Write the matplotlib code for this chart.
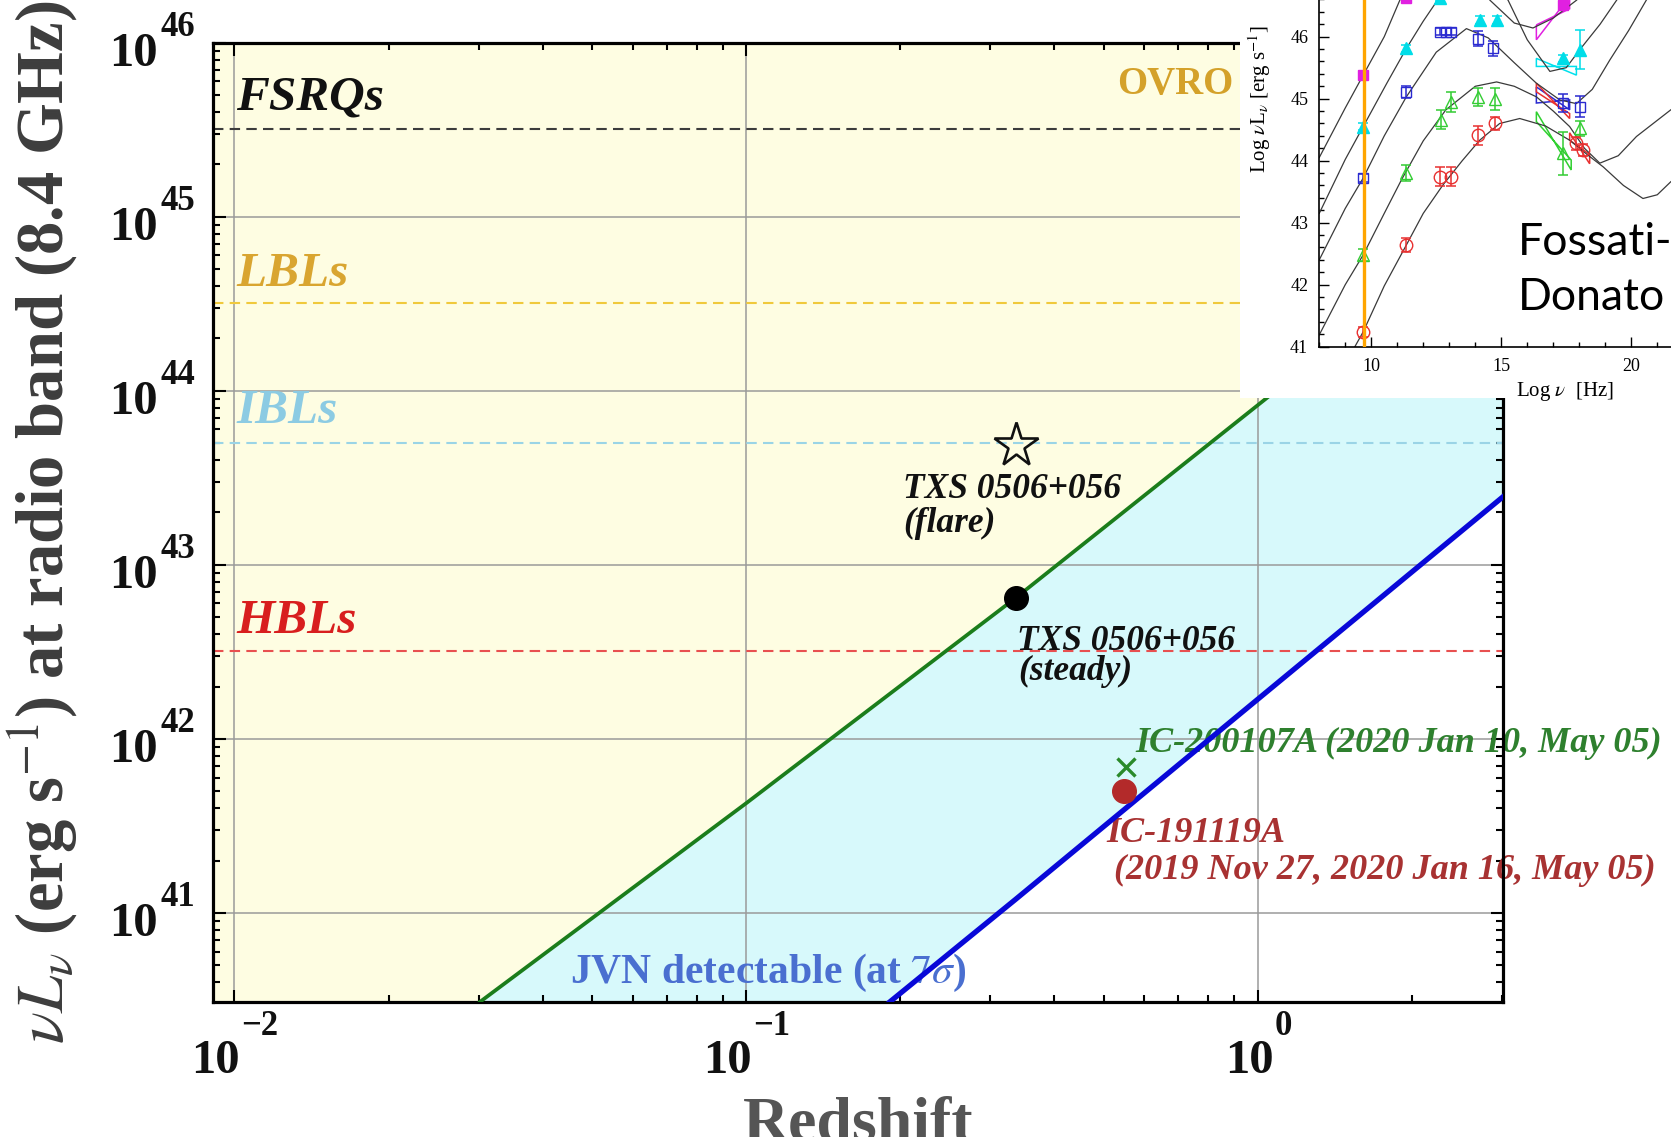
import matplotlib
matplotlib.use("Agg")
import matplotlib.pyplot as plt
from matplotlib.patches import Rectangle, Polygon
from matplotlib.ticker import FixedLocator, LogLocator, NullFormatter, MultipleLocator
import numpy as np

plt.rcParams["font.family"] = ["Liberation Serif", "DejaVu Serif"]
plt.rcParams["mathtext.fontset"] = "stix"

# ---------------- main panel data ----------------
Z_LIM = (0.00908, 3.01)
L_LIM = (3.09e40, 1e46)
z_ticks = [0.01, 0.1, 1.0]
L_ticks = [1e41, 1e42, 1e43, 1e44, 1e45, 1e46]

# OVRO sensitivity curve (green) and JVN 7 sigma curve (blue)
ovro_z = [0.0302, 0.100, 0.3365, 1.042, 3.01]
ovro_L = [3.09e40, 4.27e41, 6.46e42, 9.1e43, 1.15e45]
jvn_z = [0.191, 0.3365, 1.123, 3.01]
jvn_L = [3.09e40, 1.2e41, 2.24e42, 2.45e43]

class_names = ["FSRQs", "LBLs", "IBLs", "HBLs"]
class_L = [3.2e45, 3.2e44, 5.0e43, 3.2e42]
class_line_colors = ["#3c3c3c", "#f0c93c", "#9ad4e6", "#e85050"]
class_text_colors = ["#111111", "#d9a530", "#8ccbe3", "#d81e1e"]

txs_z = 0.3365
txs_flare_L = 4.9e43
txs_steady_L = 6.46e42
ic200107_z, ic200107_L = 0.554, 6.9e41
ic191119_z, ic191119_L = 0.549, 5.0e41

# ---------------- inset (Fossati-Donato sequence) ----------------
seq_A_x = [8.0, 9.0, 9.69, 10.5, 11.1, 12.0, 13.0, 14.0, 14.56, 15.5, 16.22, 17.0, 17.9, 19.0]
seq_A_y = [44.05, 44.85, 45.38, 46.0, 46.59, 47.2, 47.4, 47.0, 46.59, 46.22, 46.14, 46.3, 46.59, 47.1]
seq_B_x = [8.0, 9.0, 9.69, 10.6, 11.35, 12.0, 12.55, 13.5, 14.5, 15.26, 16.0, 16.87, 17.5, 18.02, 18.8, 19.44, 20.5]
seq_B_y = [43.15, 44.02, 44.55, 45.25, 45.81, 46.25, 46.59, 46.95, 46.9, 46.59, 45.95, 45.44, 45.5, 45.79, 46.2, 46.59, 47.2]
seq_C_x = [8.0, 9.0, 9.69, 10.5, 11.35, 12.5, 13.66, 14.5, 15.5, 16.35, 17.25, 17.89, 18.5, 19.17, 19.9, 20.58]
seq_C_y = [42.40, 43.23, 43.72, 44.4, 45.03, 45.75, 46.13, 45.98, 45.58, 45.25, 44.98, 44.92, 45.15, 45.62, 46.1, 46.59]
seq_D_x = [8.0, 9.0, 9.69, 10.5, 11.16, 12.0, 12.87, 14.0, 14.82, 15.5, 16.35, 17.0, 17.63, 18.2, 18.79, 19.5, 20.2, 21.52]
seq_D_y = [41.19, 42.0, 42.48, 43.15, 43.69, 44.32, 44.82, 45.2, 45.27, 45.2, 45.03, 44.8, 44.55, 44.2, 43.96, 44.08, 44.39, 44.82]
seq_E_x = [9.37, 9.69, 10.5, 11.35, 12.0, 12.76, 13.5, 14.17, 14.94, 15.71, 16.7, 17.63, 18.3, 18.92, 19.7, 20.45, 21.0, 21.52]
seq_E_y = [41.0, 41.24, 41.98, 42.64, 43.15, 43.61, 44.0, 44.33, 44.6, 44.68, 44.56, 44.33, 44.1, 43.9, 43.6, 43.39, 43.45, 43.66]

mag_x = [9.69, 11.35, 17.38]
mag_y = [45.38, 46.62, 46.51]
mag_err = [0.06, 0.06, 0.07]
cyan_x = [9.69, 11.35, 12.63, 14.17, 14.82, 17.38, 18.02]
cyan_y = [44.55, 45.81, 46.62, 46.27, 46.27, 45.65, 45.79]
cyan_err = [0.05, 0.06, 0.05, 0.06, 0.06, 0.06, 0.31]
blue_x = [9.69, 11.35, 12.63, 12.87, 13.08, 14.11, 14.68, 17.38, 18.02]
blue_y = [43.72, 45.11, 46.08, 46.08, 46.08, 45.97, 45.81, 44.93, 44.87]
blue_err = [0.06, 0.1, 0.06, 0.06, 0.06, 0.12, 0.12, 0.15, 0.17]
green_x = [9.69, 11.35, 12.68, 13.08, 14.11, 14.75, 17.38, 18.02]
green_y = [42.48, 43.80, 44.66, 44.95, 45.03, 45.00, 44.12, 44.52]
green_err = [0.1, 0.13, 0.15, 0.16, 0.15, 0.18, 0.35, 0.12]
red_x = [9.69, 11.35, 12.63, 13.08, 14.11, 14.75, 17.89, 18.15]
red_y = [41.24, 42.64, 43.74, 43.74, 44.41, 44.60, 44.28, 44.17]
red_err = [0.08, 0.12, 0.15, 0.15, 0.15, 0.1, 0.1, 0.1]

# X-ray bowties: x_left, x_right, (y_left_lo, y_left_hi), (y_right_lo, y_right_hi)
bowtie_colors = ["#e020e0", "#00e0ec", "#2a2ad0", "#e83030", "#30d030", "#e83030"]
bowtie_xl = [16.35, 16.35, 16.35, 16.35, 16.35, 17.63]
bowtie_xr = [17.63, 17.89, 17.63, 17.63, 17.69, 18.4]
bowtie_yl = [(45.95, 46.19), (45.52, 45.65), (44.93, 45.19), (45.11, 45.25), (44.63, 44.79), (44.33, 44.45)]
bowtie_yr = [(46.45, 46.65), (45.38, 45.52), (44.82, 44.98), (44.68, 44.76), (43.85, 44.01), (43.95, 44.1)]
radio_band_lognu = 9.72

YELLOW = "#fefde2"
CYAN = "#d7f9fb"
BASE_PT = 35
EXP_PT = 25


def exp_text(v):
    return str(int(round(np.log10(v)))).replace("-", "\u2212")


fig = plt.figure(figsize=(16.71, 11.37), dpi=100)
ax = fig.add_axes([0.1275, 0.1189, 0.7717, 0.8436])
ax.set_xscale("log")
ax.set_yscale("log")
ax.set_xlim(*Z_LIM)
ax.set_ylim(*L_LIM)
ax.set_facecolor(YELLOW)

ax.fill(ovro_z + jvn_z[::-1], ovro_L + jvn_L[::-1], color=CYAN, lw=0, zorder=1)
ax.fill(jvn_z + [jvn_z[-1]], jvn_L + [L_LIM[0]], color="white", lw=0, zorder=1)

ax.grid(True, which="major", color="#9a9a9a", lw=1.1)
for L, c in zip(class_L, class_line_colors):
    ax.axhline(L, color=c, lw=1.5, ls=(0, (5, 3)), zorder=2)

ax.plot(ovro_z, ovro_L, color="#1b7d1b", lw=2.7, zorder=3)
ax.plot(jvn_z, jvn_L, color="#0808d8", lw=3.8, zorder=3)

ax.plot(txs_z, txs_flare_L, marker="*", ms=33, mfc="none", mec="#111111", mew=1.9, zorder=4)
ax.plot(txs_z, txs_steady_L, marker="o", ms=17, color="black", zorder=4)
ax.plot(ic200107_z, ic200107_L, marker="x", ms=13, mew=2.4, color="#2a8a2a", zorder=4)
ax.plot(ic191119_z, ic191119_L, marker="o", ms=17, color="#b32a2a", zorder=4)

ax.xaxis.set_major_locator(FixedLocator(z_ticks))
ax.yaxis.set_major_locator(FixedLocator(L_ticks))
ax.xaxis.set_minor_locator(LogLocator(base=10, subs=np.arange(2, 10)))
ax.yaxis.set_minor_locator(LogLocator(base=10, subs=np.arange(2, 10)))
ax.xaxis.set_minor_formatter(NullFormatter())
ax.yaxis.set_minor_formatter(NullFormatter())
ax.tick_params(which="both", direction="in", top=True, right=True, width=1.5,
               labelbottom=False, labelleft=False)
ax.tick_params(which="major", length=9)
ax.tick_params(which="minor", length=5)
for s in ax.spines.values():
    s.set_linewidth(2.3)

# power-of-ten tick labels with a high superscript, as in the original
lab = dict(textcoords="offset points", fontweight="bold", va="baseline",
           annotation_clip=False, color="#111111")
for L in L_ticks:
    ax.annotate("10", xy=(0, L), xycoords=("axes fraction", "data"), xytext=(-39.5, -16.5),
                ha="right", fontsize=BASE_PT, **lab)
    ax.annotate(exp_text(L), xy=(0, L), xycoords=("axes fraction", "data"), xytext=(-37.5, 4.8),
                ha="left", fontsize=EXP_PT, **lab)
for z in z_ticks:
    e = exp_text(z)
    w_exp = EXP_PT * (0.5 * len(e.replace("\u2212", "")) + 0.57 * e.count("\u2212"))
    off = (BASE_PT - w_exp) / 2.0
    ax.annotate("10", xy=(z, 0), xycoords=("data", "axes fraction"), xytext=(off, -51),
                ha="right", fontsize=BASE_PT, **lab)
    ax.annotate(e, xy=(z, 0), xycoords=("data", "axes fraction"), xytext=(off + 1, -24),
                ha="left", fontsize=EXP_PT, **lab)

ax.set_ylabel(r"$\nu L_\nu$ (erg s$^{-1}$) at radio band (8.4 GHz)", fontsize=48,
              fontweight="bold", color="#3d3d3d")
ax.yaxis.set_label_coords(-0.103, 0.5)
ax.set_xlabel("Redshift", fontsize=46, fontweight="bold", color="#555555")
ax.xaxis.set_label_coords(0.5, -0.145)
ax.xaxis.label.set_va("baseline")

txt = dict(transform=ax.transAxes, fontweight="bold", style="italic", va="baseline", zorder=2.5)
class_y = [0.930, 0.7467, 0.6034, 0.3845]
for name, c, yy in zip(class_names, class_text_colors, class_y):
    ax.text(0.018, yy, name, color=c, fontsize=35.5, **txt)
ax.text(0.791, 0.9466, "OVRO", color="#d4a12a", fontsize=28, fontweight="bold",
        ha="right", va="baseline", transform=ax.transAxes)

ax.text(0.535, 0.5252, "TXS 0506+056", color="#111111", fontsize=25.5, **txt)
ax.text(0.535, 0.4898, "(flare)", color="#111111", fontsize=25.5, **txt)
ax.text(0.6232, 0.3668, "TXS 0506+056", color="#111111", fontsize=25.5, **txt)
ax.text(0.6245, 0.3355, "(steady)", color="#111111", fontsize=25.5, **txt)
ax.text(0.715, 0.2604, "IC-200107A (2020 Jan 10, May 05)", color="#2e802e", fontsize=26, **txt)
ax.text(0.6925, 0.1667, "IC-191119A", color="#a83232", fontsize=26, **txt)
ax.text(0.6983, 0.128, "(2019 Nov 27, 2020 Jan 16, May 05)", color="#a83232", fontsize=26, **txt)
ax.text(0.2768, 0.020, r"JVN detectable (at $\mathit{7}\sigma$)", color="#4a6fd0", fontsize=30,
        fontweight="bold", va="baseline", transform=ax.transAxes, zorder=2.5)

# ---------------- inset ----------------
fig.patches.append(Rectangle((0.742, 0.650), 0.258, 0.350, transform=fig.transFigure,
                             facecolor="white", edgecolor="none", zorder=1))
ins = fig.add_axes([0.7895, 0.6951, 0.2334, 0.3817], zorder=2)
ins.set_facecolor("white")
ins.set_xlim(8.0, 23.0)
ins.set_ylim(41, 48)
for side in ["top", "right"]:
    ins.spines[side].set_visible(False)
for side in ["left", "bottom"]:
    ins.spines[side].set_linewidth(1.2)
ins.set_xticks([10, 15, 20])
ins.set_yticks([41, 42, 43, 44, 45, 46])
ins.xaxis.set_minor_locator(MultipleLocator(1))
ins.yaxis.set_minor_locator(MultipleLocator(0.2))
ins.tick_params(which="both", direction="in", top=False, right=False, labelsize=13, pad=8, width=1)
ins.tick_params(which="major", length=7)
ins.tick_params(which="minor", length=3.5)
ins.set_ylabel(r"Log $\nu$L$_\nu$ [erg s$^{-1}$]", fontsize=15)
ins.yaxis.set_label_coords(-0.119, 0.57)
ins.set_xlabel(r"Log $\nu$  [Hz]", fontsize=15)
ins.xaxis.set_label_coords(0.63, -0.0767)
ins.xaxis.label.set_va("top")

for sx, sy in [(seq_A_x, seq_A_y), (seq_B_x, seq_B_y), (seq_C_x, seq_C_y),
               (seq_D_x, seq_D_y), (seq_E_x, seq_E_y)]:
    ins.plot(sx, sy, color="#3a3a3a", lw=0.9)

eb = dict(ls="none", capsize=3.5, elinewidth=1.1, capthick=1.1)
ins.errorbar(mag_x, mag_y, yerr=mag_err, fmt="s", ms=7, color="#e020e0", **eb)
ins.errorbar(cyan_x, cyan_y, yerr=cyan_err, fmt="^", ms=8, color="#00dde8", **eb)
ins.errorbar(blue_x, blue_y, yerr=blue_err, fmt="s", ms=7, color="#2a2ad0", mfc="none", **eb)
ins.errorbar(green_x, green_y, yerr=green_err, fmt="^", ms=8, color="#33cc33", mfc="none", **eb)
ins.errorbar(red_x, red_y, yerr=red_err, fmt="o", ms=9, color="#e83030", mfc="none", **eb)

for c, xl, xr, yl, yr in zip(bowtie_colors, bowtie_xl, bowtie_xr, bowtie_yl, bowtie_yr):
    ins.add_patch(Polygon([(xl, yl[1]), (xr, yr[0]), (xr, yr[1]), (xl, yl[0])],
                          closed=True, fill=False, edgecolor=c, lw=1.1))

ins.axvline(radio_band_lognu, color="#ffa500", lw=2.4, zorder=5)

fossati_font = ["Lato", "DejaVu Sans"]
fig.text(0.9085, 0.7757, "Fossati-", fontsize=32, family=fossati_font, va="baseline", zorder=4)
fig.text(0.9085, 0.7274, "Donato", fontsize=32, family=fossati_font, va="baseline", zorder=4)

fig.savefig("out.png", dpi=100)
